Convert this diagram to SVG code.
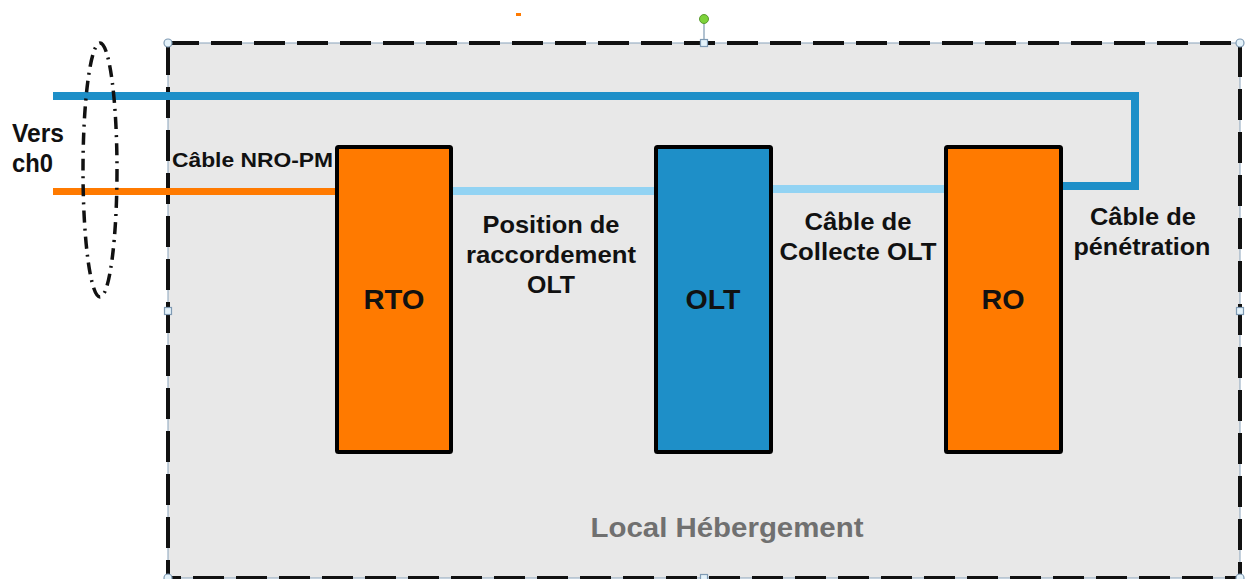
<svg xmlns="http://www.w3.org/2000/svg" width="1246" height="579" viewBox="0 0 1246 579">
<style>
.t{font-family:"Liberation Sans",Arial,sans-serif;font-weight:bold;fill:#111;}
.lbl{font-size:24px;text-anchor:middle;}
.box{stroke:#000;stroke-width:4;}
.node{font-family:"Liberation Sans",Arial,sans-serif;font-weight:bold;font-size:28px;fill:#111;text-anchor:middle;}
.hc{fill:#e4f2fa;stroke:#7f9ab3;stroke-width:1.2;}
</style>
<rect width="1246" height="579" fill="#fff"/>
<rect x="516" y="13" width="5" height="3" fill="#ff7a00"/>
<g id="local-hebergement">
<rect x="168" y="43" width="1072" height="535" fill="#e8e8e8"/>
<rect x="168" y="43" width="1072" height="535" fill="none" stroke="#8aa4bc" stroke-width="1"/>
<rect x="168" y="43" width="1072" height="535" fill="none" stroke="#111" stroke-width="4" stroke-dasharray="31 12"/>
<text class="t" x="727" y="537" font-size="27" text-anchor="middle" style="fill:#707070" textLength="273" lengthAdjust="spacingAndGlyphs">Local Hébergement</text>
</g>
<g id="selection-handles">
<line x1="704" y1="19" x2="704" y2="43" stroke="#7f9ab3" stroke-width="1.2"/>
<circle cx="704" cy="19" r="4.5" fill="#7dd33a" stroke="#5a9a30" stroke-width="1"/>
<circle class="hc" cx="168" cy="43" r="4"/>
<circle class="hc" cx="1240" cy="43" r="4"/>
<circle class="hc" cx="168" cy="578" r="4"/>
<circle class="hc" cx="1240" cy="578" r="4"/>
<rect class="hc" x="700.5" y="39.5" width="7" height="7"/>
<rect class="hc" x="164.5" y="307.5" width="7" height="7"/>
<rect class="hc" x="1236.5" y="307.5" width="7" height="7"/>
<rect class="hc" x="700.5" y="574.5" width="7" height="7"/>
</g>
<g id="connectors" fill="none">
<polyline points="53,96 1135,96 1135,186 1061,186" stroke="#1e8fc8" stroke-width="8"/>
<line x1="53" y1="191.5" x2="337" y2="191.5" stroke="#ff7a00" stroke-width="7"/>
<line x1="453" y1="191" x2="656" y2="191" stroke="#92d3f3" stroke-width="8"/>
<line x1="771" y1="189" x2="946" y2="189" stroke="#92d3f3" stroke-width="8"/>
<ellipse cx="100" cy="170" rx="17" ry="127" stroke="#111" stroke-width="3.5" stroke-dasharray="12 6 2 6"/>
</g>
<g id="labels">
<text class="t" x="12" y="142" font-size="25" textLength="52" lengthAdjust="spacingAndGlyphs">Vers</text>
<text class="t" x="12" y="172" font-size="25" textLength="41" lengthAdjust="spacingAndGlyphs">ch0</text>
<text class="t" x="172" y="167" font-size="21" textLength="161" lengthAdjust="spacingAndGlyphs">Câble NRO-PM</text>
<text class="t lbl" x="551" y="233" textLength="137" lengthAdjust="spacingAndGlyphs">Position de</text>
<text class="t lbl" x="551" y="263" textLength="170" lengthAdjust="spacingAndGlyphs">raccordement</text>
<text class="t lbl" x="551" y="293" textLength="48" lengthAdjust="spacingAndGlyphs">OLT</text>
<text class="t lbl" x="858" y="230" textLength="107" lengthAdjust="spacingAndGlyphs">Câble de</text>
<text class="t lbl" x="858" y="260" textLength="157" lengthAdjust="spacingAndGlyphs">Collecte OLT</text>
<text class="t lbl" x="1143" y="225" textLength="106" lengthAdjust="spacingAndGlyphs">Câble de</text>
<text class="t lbl" x="1142" y="255" textLength="137" lengthAdjust="spacingAndGlyphs">pénétration</text>
</g>
<g id="rto">
<rect class="box" x="337" y="147" width="114" height="305" rx="1.5" fill="#ff7a00"/>
<text class="node" x="394" y="309" textLength="61" lengthAdjust="spacingAndGlyphs">RTO</text>
</g>
<g id="olt">
<rect class="box" x="656" y="147" width="115" height="305" rx="1.5" fill="#1e8fc8"/>
<text class="node" x="713" y="309" textLength="55" lengthAdjust="spacingAndGlyphs">OLT</text>
</g>
<g id="ro">
<rect class="box" x="946" y="147" width="115" height="305" rx="1.5" fill="#ff7a00"/>
<text class="node" x="1003" y="309" textLength="43" lengthAdjust="spacingAndGlyphs">RO</text>
</g>
</svg>
